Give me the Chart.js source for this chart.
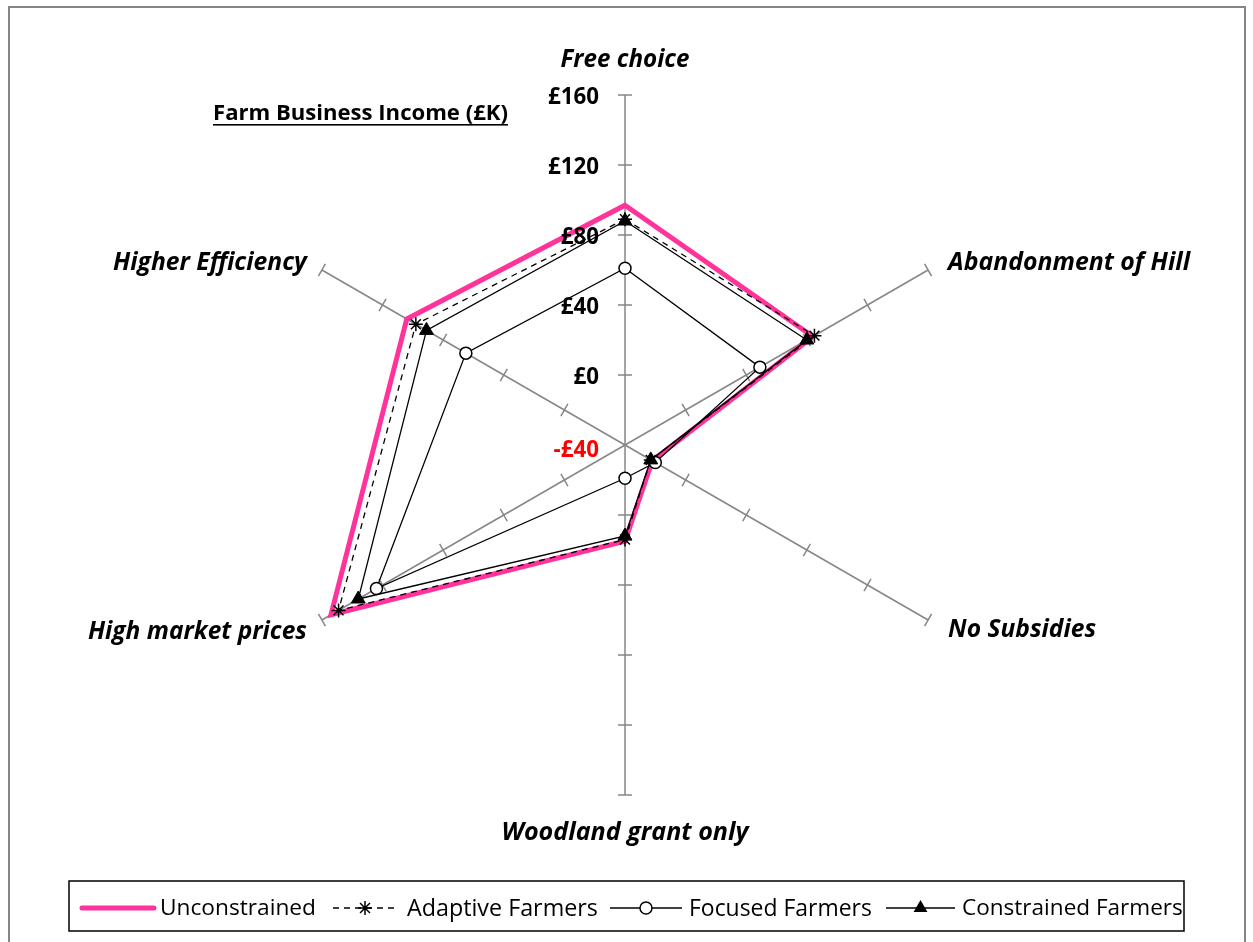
<!DOCTYPE html>
<html><head><meta charset="utf-8">
<script src="https://cdn.jsdelivr.net/npm/chart.js@4.4.1/dist/chart.umd.min.js"></script>
<style>html,body{margin:0;padding:0;background:#fff;}#wrap{position:relative;width:1253px;height:942px;}</style>
</head><body><div id="wrap"><canvas id="c" width="1253" height="942"></canvas></div>
<script>
const categories = ['Free choice','Abandonment of Hill','No Subsidies','Woodland grant only','High market prices','Higher Efficiency'];
const unconstrained = [97, 84, -22, 15, 154, 104];
const adaptiveFarmers = [89, 85, -23, 14, 149, 98];
const focusedFarmers = [61, 49, -20, -21, 124, 65];
const constrainedFarmers = [88, 80, -23, 12, 136, 91];
const tickValues = [-40, 0, 40, 80, 120, 160];
const tickLabels = ['-£40','£0','£40','£80','£120','£160'];
const seriesNames = ['Unconstrained','Adaptive Farmers','Focused Farmers','Constrained Farmers'];
const chartTitle = 'Farm Business Income (£K)';

const FONT = '"Open Sans", sans-serif';
const PINK = '#FF3399';
const AXIS = '#868686';

function fitFont(ctx, text, style, target, base) {
  ctx.font = style + ' ' + base + 'px ' + FONT;
  const w = ctx.measureText(text).width;
  const size = base * target / w;
  ctx.font = style + ' ' + size.toFixed(2) + 'px ' + FONT;
  return size;
}

function drawMarker(ctx, style, x, y) {
  ctx.save();
  ctx.strokeStyle = '#000'; ctx.fillStyle = '#000'; ctx.lineWidth = 1.5; ctx.setLineDash([]);
  if (style === 'star') {
    const r = 7;
    ctx.beginPath();
    for (let k = 0; k < 4; k++) {
      const a = k * Math.PI / 4;
      ctx.moveTo(x - r * Math.cos(a), y - r * Math.sin(a));
      ctx.lineTo(x + r * Math.cos(a), y + r * Math.sin(a));
    }
    ctx.stroke();
  } else if (style === 'circle') {
    ctx.fillStyle = '#fff';
    ctx.beginPath(); ctx.arc(x, y, 6, 0, Math.PI * 2); ctx.fill(); ctx.stroke();
  } else if (style === 'triangle') {
    const r = 8;
    ctx.beginPath();
    ctx.moveTo(x, y - r);
    ctx.lineTo(x + r * 0.866, y + r * 0.5);
    ctx.lineTo(x - r * 0.866, y + r * 0.5);
    ctx.closePath(); ctx.fill();
  }
  ctx.restore();
}

const decor = {
  id: 'decor',
  beforeDatasetsDraw(chart) {
    const ctx = chart.ctx, s = chart.scales.r;
    ctx.save();
    ctx.strokeStyle = AXIS; ctx.lineWidth = 1.5;
    for (let i = 0; i < categories.length; i++) {
      const ang = s.getIndexAngle(i) - Math.PI / 2;
      const px = -Math.sin(ang), py = Math.cos(ang);
      for (const v of tickValues) {
        if (v === s.min) continue;
        const p = s.getPointPositionForValue(i, v);
        ctx.beginPath();
        ctx.moveTo(p.x - px * 7, p.y - py * 7);
        ctx.lineTo(p.x + px * 7, p.y + py * 7);
        ctx.stroke();
      }
    }
    ctx.restore();
  },
  afterDraw(chart) {
    const ctx = chart.ctx, s = chart.scales.r;
    ctx.save();
    // tick labels
    fitFont(ctx, '£160', 'bold', 51, 20);
    ctx.textAlign = 'right'; ctx.textBaseline = 'middle';
    tickValues.forEach((v, k) => {
      const p = s.getPointPositionForValue(0, v);
      ctx.fillStyle = v < 0 ? '#FF0000' : '#000';
      ctx.fillText(tickLabels[k], s.xCenter - 26, p.y + (v === s.min ? 6 : 3));
    });
    // point labels
    const lab = [
      {dx: 0, dy: -35, al: 'center', w: 129},
      {dx: 20, dy: -7, al: 'left', w: 242},
      {dx: 20, dy: 10, al: 'left', w: 148},
      {dx: 0, dy: 38, al: 'center', w: 247},
      {dx: -15, dy: 12, al: 'right', w: 219},
      {dx: -15, dy: -7, al: 'right', w: 194}
    ];
    ctx.fillStyle = '#000';
    categories.forEach((c, i) => {
      const p = s.getPointPositionForValue(i, s.max);
      fitFont(ctx, c, 'italic bold', lab[i].w, 22);
      ctx.textAlign = lab[i].al;
      ctx.fillText(c, p.x + lab[i].dx, p.y + lab[i].dy);
    });
    // title
    fitFont(ctx, chartTitle, 'bold', 295, 19);
    ctx.textAlign = 'left';
    ctx.fillText(chartTitle, 213, 114);
    ctx.fillRect(213, 124, 295, 1.6);
    // legend
    const L = {x: 69, y: 881, w: 1115, h: 50};
    ctx.strokeStyle = '#000'; ctx.lineWidth = 1.5;
    ctx.strokeRect(L.x, L.y, L.w, L.h);
    ctx.save();
    ctx.beginPath(); ctx.rect(L.x, L.y, L.w, L.h); ctx.clip();
    const ly = 908;
    ctx.textAlign = 'left'; ctx.fillStyle = '#000';
    const items = [
      {x0: 82, x1: 154, tx: 160, mk: null, w: 156},
      {x0: 333, x1: 397, tx: 407, mk: 'star', w: 191},
      {x0: 610, x1: 682, tx: 689, mk: 'circle', w: 183},
      {x0: 886, x1: 955, tx: 962, mk: 'triangle', w: 221}
    ];
    items.forEach((it, k) => {
      ctx.save();
      ctx.beginPath();
      if (k === 0) { ctx.strokeStyle = PINK; ctx.lineWidth = 5; ctx.lineCap = 'round'; }
      else { ctx.strokeStyle = '#000'; ctx.lineWidth = 1.5; }
      if (k === 1) ctx.setLineDash([6, 5]);
      ctx.moveTo(it.x0, ly); ctx.lineTo(it.x1, ly); ctx.stroke();
      ctx.restore();
      if (it.mk) drawMarker(ctx, it.mk, (it.x0 + it.x1) / 2, ly);
      fitFont(ctx, seriesNames[k], '', it.w, 20);
      ctx.fillText(seriesNames[k], it.tx, ly + 1);
    });
    ctx.restore();
    // frame
    ctx.strokeStyle = AXIS; ctx.lineWidth = 2;
    ctx.strokeRect(9, 7, 1236, 1000);
    ctx.restore();
  }
};

new Chart(document.getElementById('c'), {
  type: 'radar',
  data: {
    labels: categories,
    datasets: [
      {label: seriesNames[0], data: unconstrained, borderColor: PINK, borderWidth: 5, pointRadius: 0, fill: false, order: 4},
      {label: seriesNames[1], data: adaptiveFarmers, borderColor: '#000', borderWidth: 1.3, borderDash: [6, 5], pointStyle: 'star', pointRadius: 7, pointBorderColor: '#000', pointBorderWidth: 1.5, fill: false, order: 3},
      {label: seriesNames[2], data: focusedFarmers, borderColor: '#000', borderWidth: 1.3, pointStyle: 'circle', pointRadius: 6, pointBackgroundColor: '#fff', pointBorderColor: '#000', pointBorderWidth: 1.5, fill: false, order: 2},
      {label: seriesNames[3], data: constrainedFarmers, borderColor: '#000', borderWidth: 1.3, pointStyle: 'triangle', pointRadius: 8, pointBackgroundColor: '#000', pointBorderColor: '#000', pointBorderWidth: 1, fill: false, order: 1}
    ]
  },
  options: {
    responsive: false, animation: false, devicePixelRatio: 1,
    layout: {padding: {left: 275, right: 278, top: 95, bottom: 147}},
    elements: {line: {tension: 0}},
    plugins: {legend: {display: false}, tooltip: {enabled: false}},
    scales: {
      r: {
        min: -40, max: 160,
        ticks: {display: false, stepSize: 40},
        grid: {display: false},
        angleLines: {display: true, color: AXIS, lineWidth: 1.5},
        pointLabels: {display: false}
      }
    }
  },
  plugins: [decor]
});
</script></body></html>
